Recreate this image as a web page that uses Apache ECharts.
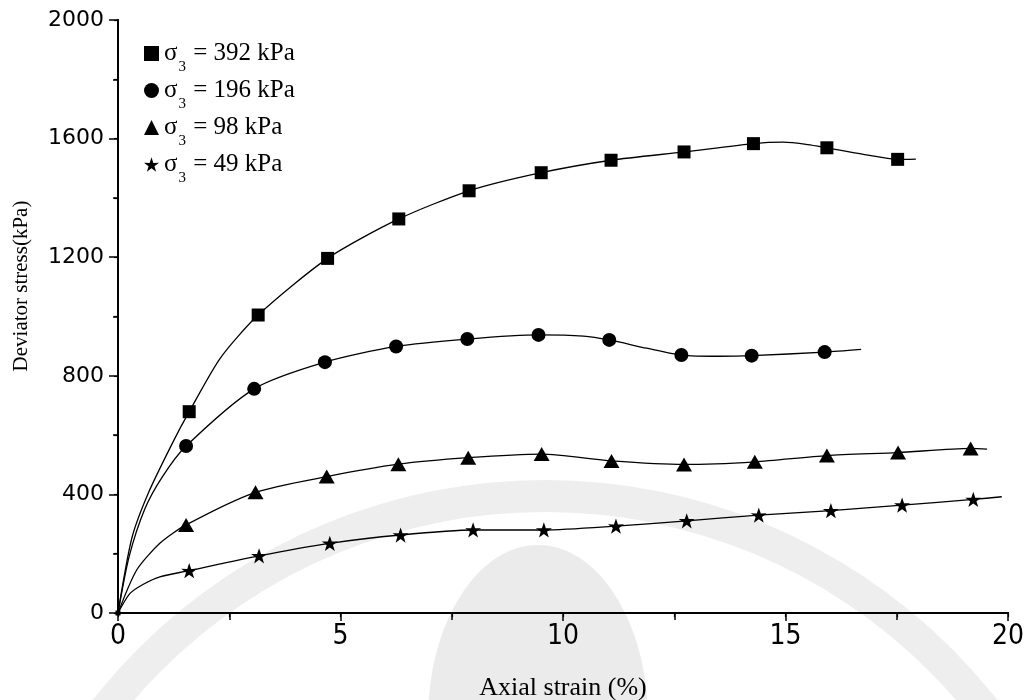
<!DOCTYPE html>
<html>
<head>
<meta charset="utf-8">
<title>Deviator stress vs axial strain</title>
<script src="https://cdn.jsdelivr.net/npm/echarts@6/dist/echarts.min.js"></script>
<style>
  html, body { margin: 0; padding: 0; background: #fff; }
  #chart { width: 1027px; height: 700px; }
</style>
</head>
<body>
<div id="chart"></div>
<script>
// Confining pressures (kPa), one per test
const confining = ['392', '196', '98', '49'];

// Measured points [axial strain %, deviator stress kPa]
const points392 = [[1.60, 679], [3.15, 1005], [4.71, 1196], [6.31, 1329], [7.89, 1424], [9.51, 1485],
  [11.08, 1527], [12.72, 1555], [14.28, 1583], [15.93, 1569], [17.52, 1530]];
const points196 = [[1.53, 563], [3.06, 756], [4.65, 846], [6.25, 899], [7.85, 924], [9.45, 938],
  [11.04, 921], [12.66, 870], [14.24, 868], [15.88, 880]];
const points98 = [[1.53, 297], [3.09, 407], [4.69, 460], [6.30, 502], [7.87, 524], [9.52, 536],
  [11.09, 513], [12.72, 501], [14.31, 510], [15.93, 531], [17.53, 541], [19.16, 555]];
const points49 = [[1.60, 143], [3.17, 193], [4.76, 235], [6.35, 263], [7.98, 280], [9.57, 280],
  [11.19, 293], [12.78, 311], [14.40, 330], [16.02, 345], [17.62, 364], [19.22, 383]];

// Fitted stress-strain curves
const curve392 = [[0, 0], [0.31, 252], [0.68, 404], [1.24, 578], [1.60, 679], [2.30, 860], [3.15, 1005],
  [4.71, 1196], [6.31, 1329], [7.89, 1424], [9.51, 1485], [11.08, 1527], [12.72, 1555], [14.28, 1583],
  [14.95, 1588], [15.50, 1580], [15.93, 1569], [16.75, 1547], [17.52, 1530], [17.93, 1531]];
const curve196 = [[0, 0], [0.25, 190], [0.60, 350], [1.00, 460], [1.53, 563], [3.06, 756], [4.65, 846],
  [6.25, 899], [7.85, 924], [9.45, 938], [10.46, 934], [11.04, 921], [11.88, 893], [12.66, 870],
  [13.50, 866], [14.24, 868], [15.88, 880], [16.70, 889]];
const curve98 = [[0, 0], [0.42, 145], [0.94, 235], [1.53, 297], [3.09, 407], [4.69, 460], [6.30, 502],
  [7.87, 524], [9.52, 536], [11.09, 513], [12.72, 501], [14.31, 510], [15.93, 531], [17.53, 541],
  [19.16, 555], [19.53, 553]];
const curve49 = [[0, 0], [0.27, 66], [0.57, 97], [0.94, 122], [1.60, 143], [3.17, 193], [4.76, 235],
  [6.35, 263], [7.98, 280], [8.80, 280], [9.57, 280], [11.19, 293], [12.78, 311], [14.40, 330],
  [16.02, 345], [17.62, 364], [19.22, 383], [19.86, 392]];

const starPath = 'path://M50,0 L61.8,35.1 L97.6,34.5 L68.8,55.9 L79.4,90.5 L50,69.5 L20.6,90.5 L31.2,55.9 L2.4,34.5 L38.2,35.1 Z';

const names = confining.map(p => 'σ3 = ' + p + ' kPa');
const pointSets = [points392, points196, points98, points49];
const curveSets = [curve392, curve196, curve98, curve49];
const symbols = ['rect', 'circle', 'triangle', starPath];
const symbolSizes = [13, 14, [16, 14], 16];

const serif = "'Liberation Serif', 'Times New Roman', serif";

const series = [];
curveSets.forEach((c, i) => {
  series.push({
    name: 'curve ' + confining[i],
    type: 'line',
    data: c,
    smooth: 0.25,
    symbol: 'none',
    silent: true,
    lineStyle: { color: '#000', width: 1.3 },
    z: 3
  });
});
pointSets.forEach((p, i) => {
  series.push({
    name: names[i],
    type: 'scatter',
    data: p,
    symbol: symbols[i],
    symbolSize: symbolSizes[i],
    symbolKeepAspect: true,
    itemStyle: { color: '#000', opacity: 1 },
    z: 5
  });
});
// small mark where all tests start
series.push({
  name: 'origin',
  type: 'scatter',
  data: [[0, 0]],
  symbol: 'rect',
  symbolSize: 5,
  silent: true,
  itemStyle: { color: '#000', opacity: 1 },
  z: 5
});

const chart = echarts.init(document.getElementById('chart'), null, { renderer: 'canvas' });

chart.setOption({
  backgroundColor: '#fff',
  animation: false,
  grid: { left: 118, right: 19, top: 20, bottom: 87, containLabel: false, outerBoundsMode: 'none' },
  legend: {
    orient: 'vertical',
    left: 139,
    top: 27,
    itemGap: -6,
    itemWidth: 15,
    itemHeight: 15,
    selectedMode: false,
    data: names.map((n, i) => ({ name: n, icon: symbols[i], itemStyle: { color: '#000', opacity: 1 } })),
    formatter: name => {
      const p = name.split('= ')[1];
      return '{s|σ}{sub|3}{s| = ' + p + '}';
    },
    textStyle: {
      fontFamily: serif,
      fontSize: 25,
      color: '#000',
      rich: {
        s: { fontFamily: serif, fontSize: 25, lineHeight: 30, color: '#000' },
        sub: { fontFamily: serif, fontSize: 15, lineHeight: 30, color: '#000', padding: [28, 1, 0, 1] }
      }
    }
  },
  graphic: [
    // faint emblem in the background
    { type: 'ring', z: -1, silent: true, shape: { cx: 545, cy: 1055, r: 575, r0: 543 }, style: { fill: '#eeeeee' } },
    { type: 'ellipse', z: -1, silent: true, shape: { cx: 538, cy: 720, rx: 110, ry: 175 }, style: { fill: '#ebebeb' } },
    {
      type: 'text', x: 21, y: 286, rotation: Math.PI / 2, z: 10,
      style: {
        text: 'Deviator stress(kPa)', font: '21px ' + serif, fill: '#000',
        textAlign: 'center', textVerticalAlign: 'middle'
      }
    }
  ],
  xAxis: [
    {
      type: 'value', position: 'bottom', min: 0, max: 20, interval: 5,
      name: 'Axial strain (%)', nameLocation: 'middle', nameGap: 62,
      nameTextStyle: { fontFamily: serif, fontSize: 26, color: '#000' },
      axisLine: { show: true, lineStyle: { color: '#000', width: 2 } },
      axisTick: { show: true, inside: false, length: 8, lineStyle: { color: '#000', width: 1.5 } },
      minorTick: { show: true, splitNumber: 2, length: 7, lineStyle: { color: '#000', width: 1.5 } },
      splitLine: { show: false },
      axisLabel: {
        color: '#000', fontSize: 28, margin: 10,
        fontFamily: "'Liberation Sans Narrow', 'DejaVu Sans Condensed', 'Liberation Sans', sans-serif"
      }
    },
    {
      type: 'value', position: 'top', min: 0, max: 20, interval: 2.5,
      axisLine: { show: true, lineStyle: { color: '#000', width: 2 } },
      axisTick: { show: true, inside: true, length: 4, lineStyle: { color: '#000', width: 1.2 } },
      axisLabel: { show: false },
      splitLine: { show: false }
    }
  ],
  yAxis: [
    {
      type: 'value', position: 'left', min: 0, max: 2000, interval: 400,
      axisLine: { show: true, lineStyle: { color: '#000', width: 2 } },
      axisTick: { show: true, inside: false, length: 9, lineStyle: { color: '#000', width: 1.5 } },
      minorTick: { show: true, splitNumber: 2, length: 5, lineStyle: { color: '#000', width: 1.5 } },
      splitLine: { show: false },
      axisLabel: {
        color: '#000', fontSize: 22, margin: 14,
        fontFamily: "'DejaVu Sans', 'Liberation Sans', sans-serif",
        formatter: v => String(v)
      }
    },
    {
      type: 'value', position: 'right', min: 0, max: 2000, interval: 200,
      axisLine: { show: true, lineStyle: { color: '#000', width: 2 } },
      axisTick: { show: true, inside: true, length: 4, lineStyle: { color: '#000', width: 1.2 } },
      axisLabel: { show: false },
      splitLine: { show: false }
    }
  ],
  series: series
});
</script>
</body>
</html>
